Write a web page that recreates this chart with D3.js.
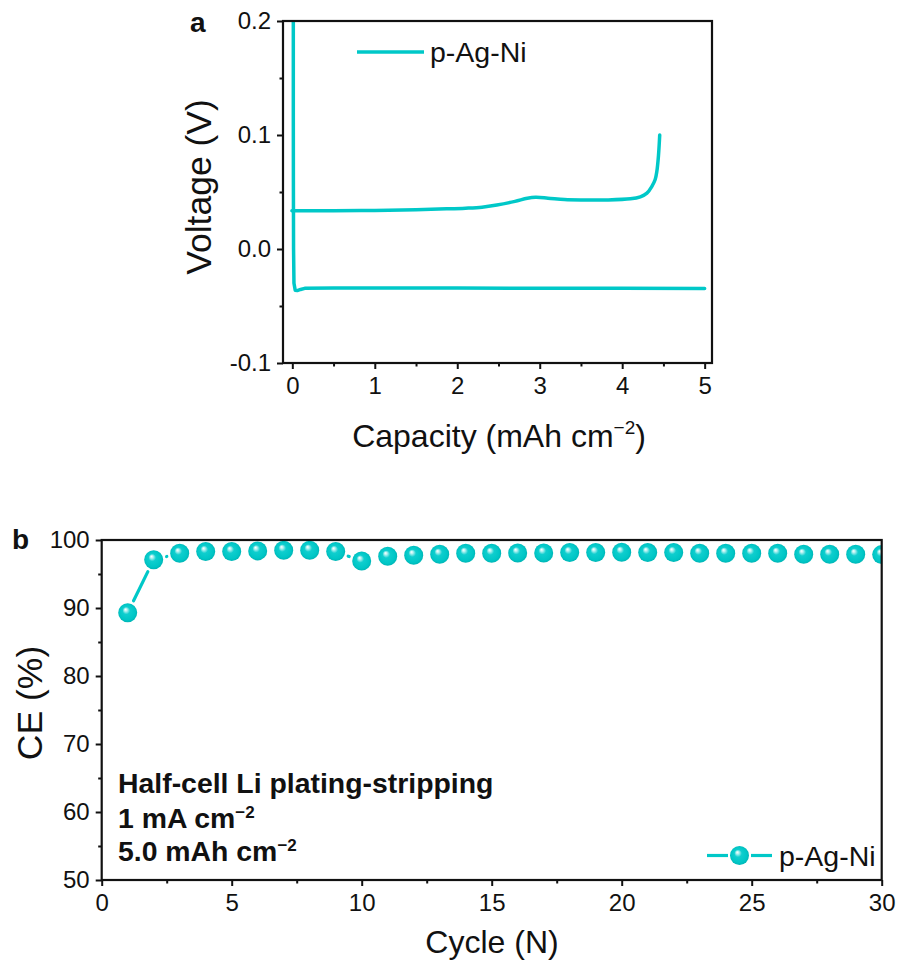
<!DOCTYPE html>
<html>
<head>
<meta charset="utf-8">
<script src="https://cdn.jsdelivr.net/npm/d3@7"></script>
<style>
  html, body { margin: 0; padding: 0; background: #fff; }
  svg { display: block; }
  text { font-family: "Liberation Sans", Arial, sans-serif; fill: #111; }
</style>
</head>
<body>
<svg id="chart" width="899" height="967"></svg>
<script>
// ---------------- DATA ----------------
// Panel a: voltage profile (plating then stripping)
const platingCapacity = [0.012, 0.012, 0.013, 0.015, 0.02, 0.035, 0.06, 0.1, 0.15, 0.5, 1.0, 2.0, 3.0, 4.0, 5.0];
const platingVoltage  = [0.2, 0.12, 0.06, 0.0, -0.03, -0.0362, -0.0365, -0.0355, -0.0345, -0.0343, -0.0343, -0.0343, -0.0345, -0.0345, -0.0346];

const strippingCapacity = [-0.005, 0.5, 1.0, 1.5, 1.87, 2.1, 2.3, 2.48, 2.7, 2.85, 2.95, 3.1, 3.3, 3.5, 3.8, 4.1, 4.22, 4.3, 4.36, 4.4, 4.42, 4.44, 4.455];
const strippingVoltage  = [0.0335, 0.0336, 0.0338, 0.0345, 0.0352, 0.0358, 0.0367, 0.0386, 0.0418, 0.0445, 0.0453, 0.0446, 0.0434, 0.0430, 0.0430, 0.0440, 0.0458, 0.049, 0.055, 0.061, 0.068, 0.082, 0.1];

const seriesName = "p-Ag-Ni";
const xTicksA = [0, 1, 2, 3, 4, 5];
const xMinorA = [0.5, 1.5, 2.5, 3.5, 4.5];
const yTicksA = [-0.1, 0.0, 0.1, 0.2];
const yTickLabelsA = ["-0.1", "0.0", "0.1", "0.2"];
const yMinorA = [-0.05, 0.05, 0.15];

// Panel b: coulombic efficiency
const cycles = [1, 2, 3, 4, 5, 6, 7, 8, 9, 10, 11, 12, 13, 14, 15, 16, 17, 18, 19, 20, 21, 22, 23, 24, 25, 26, 27, 28, 29, 30];
const ce = [89.3, 97.1, 98.05, 98.3, 98.3, 98.4, 98.5, 98.5, 98.3, 96.9, 97.6, 97.75, 97.9, 98.05, 98.05, 98.1, 98.1, 98.15, 98.15, 98.2, 98.15, 98.15, 98.05, 98.05, 98.05, 98.05, 97.9, 97.9, 97.9, 97.85];
const xTicksB = [0, 5, 10, 15, 20, 25, 30];
const xMinorB = [2.5, 7.5, 12.5, 17.5, 22.5, 27.5];
const yTicksB = [50, 60, 70, 80, 90, 100];
const yMinorB = [55, 65, 75, 85, 95];
const annotationLines = [
  {main: "Half-cell Li plating-stripping", sup: ""},
  {main: "1 mA cm", sup: "\u22122"},
  {main: "5.0 mAh cm", sup: "\u22122"}
];

// ---------------- STYLE ----------------
const CYAN = "#00c8c8";
const MARKER_R = 9.5;
const LINE_GAP = 13.3; // distance from marker centre where connecting line stops
const svg = d3.select("#chart");

// gradient for spherical markers
const defs = svg.append("defs");
const grad = defs.append("radialGradient").attr("id", "ball")
  .attr("cx", "50%").attr("cy", "50%").attr("r", "52%")
  .attr("fx", "38%").attr("fy", "32%");
grad.append("stop").attr("offset", "0%").attr("stop-color", "#ffffff");
grad.append("stop").attr("offset", "14%").attr("stop-color", "#b8f2f2");
grad.append("stop").attr("offset", "38%").attr("stop-color", "#0fcece");
grad.append("stop").attr("offset", "80%").attr("stop-color", "#00c6c6");
grad.append("stop").attr("offset", "100%").attr("stop-color", "#00b2b2");

function drawAxes(g, x, y, xt, xm, yt, ym, yFmt) {
  const [x0, x1] = x.range();
  const [y0, y1] = y.range(); // y0 bottom, y1 top
  const bx = g.append("g").attr("transform", `translate(0,${y0})`)
    .call(d3.axisBottom(x).tickValues(xt).tickSize(6).tickSizeOuter(0).tickPadding(8).tickFormat(d3.format("d")));
  const bxm = g.append("g").attr("transform", `translate(0,${y0})`)
    .call(d3.axisBottom(x).tickValues(xm).tickSize(3.5).tickSizeOuter(0).tickFormat(""));
  const ly = g.append("g").attr("transform", `translate(${x0},0)`)
    .call(d3.axisLeft(y).tickValues(yt).tickSize(6).tickSizeOuter(0).tickPadding(6).tickFormat(yFmt));
  const lym = g.append("g").attr("transform", `translate(${x0},0)`)
    .call(d3.axisLeft(y).tickValues(ym).tickSize(3.5).tickSizeOuter(0).tickFormat(""));
  [bx, bxm, ly, lym].forEach(a => {
    a.select(".domain").remove();
    a.selectAll(".tick line").attr("stroke", "#111").attr("stroke-width", 2);
    a.selectAll(".tick text").attr("font-size", 24).attr("fill", "#111")
      .attr("font-family", '"Liberation Sans", Arial, sans-serif');
  });
  g.append("rect").attr("x", x0).attr("y", y1).attr("width", x1 - x0).attr("height", y0 - y1)
    .attr("fill", "none").attr("stroke", "#111").attr("stroke-width", 2.2);
}

// ---------------- PANEL A ----------------
const xa = d3.scaleLinear().domain([-0.113, 5.089]).range([283, 712]);
const ya = d3.scaleLinear().domain([-0.1, 0.2]).range([363, 21]);
const ga = svg.append("g");
defs.append("clipPath").attr("id", "clipA").append("rect")
  .attr("x", 283).attr("y", 21).attr("width", 712 - 283).attr("height", 363 - 21);

const plating = platingCapacity.map((c, i) => [c, platingVoltage[i]]);
const stripping = strippingCapacity.map((c, i) => [c, strippingVoltage[i]]);
const curvesA = ga.append("g").attr("clip-path", "url(#clipA)");
curvesA.append("path").attr("d", d3.line().x(d => xa(d[0])).y(d => ya(d[1]))(plating)).attr("fill", "none")
  .attr("stroke", CYAN).attr("stroke-width", 3.5).attr("stroke-linejoin", "round").attr("stroke-linecap", "round");
curvesA.append("path").attr("d", d3.line().x(d => xa(d[0])).y(d => ya(d[1])).curve(d3.curveCatmullRom.alpha(0.5))(stripping)).attr("fill", "none")
  .attr("stroke", CYAN).attr("stroke-width", 3.5).attr("stroke-linejoin", "round").attr("stroke-linecap", "round");

drawAxes(ga, xa, ya, xTicksA, xMinorA, yTicksA, yMinorA, d => yTickLabelsA[yTicksA.indexOf(d)]);

// legend a
ga.append("line").attr("x1", 357).attr("x2", 424).attr("y1", 52).attr("y2", 52)
  .attr("stroke", CYAN).attr("stroke-width", 3.5);
ga.append("text").attr("x", 430).attr("y", 62).attr("font-size", 28.5).text(seriesName);

// titles a
ga.append("text").attr("x", 499).attr("y", 447).attr("text-anchor", "middle").attr("font-size", 32)
  .call(t => { t.append("tspan").text("Capacity (mAh cm"); t.append("tspan").attr("font-size", 19).attr("dy", -13).text("\u22122"); t.append("tspan").attr("dy", 13).text(")"); });
ga.append("text").attr("transform", "translate(211,187) rotate(-90)").attr("text-anchor", "middle")
  .attr("font-size", 35.5).text("Voltage (V)");
ga.append("text").attr("x", 190).attr("y", 32).attr("font-size", 28).attr("font-weight", "bold").text("a");

// ---------------- PANEL B ----------------
const xb = d3.scaleLinear().domain([0, 30]).range([101.7, 881.7]);
const yb = d3.scaleLinear().domain([50, 100]).range([880, 540]);
const gb = svg.append("g");
defs.append("clipPath").attr("id", "clipB").append("rect")
  .attr("x", 101.7).attr("y", 520).attr("width", 881.7 - 101.7).attr("height", 880 - 520);

const pts = cycles.map((c, i) => [c, ce[i]]);
const plotB = gb.append("g").attr("clip-path", "url(#clipB)");
// connecting line segments with a gap around each symbol (Origin style)
const segs = d3.pairs(pts).map(([a, b]) => {
  const ax = xb(a[0]), ay = yb(a[1]), bx = xb(b[0]), by = yb(b[1]);
  const dx = bx - ax, dy = by - ay, len = Math.hypot(dx, dy);
  const ux = dx / len, uy = dy / len;
  return {x1: ax + ux * LINE_GAP, y1: ay + uy * LINE_GAP, x2: bx - ux * LINE_GAP, y2: by - uy * LINE_GAP, ok: len > 2 * LINE_GAP};
}).filter(s => s.ok);
plotB.selectAll("line.seg").data(segs).join("line").attr("class", "seg")
  .attr("x1", d => d.x1).attr("y1", d => d.y1).attr("x2", d => d.x2).attr("y2", d => d.y2)
  .attr("stroke", CYAN).attr("stroke-width", 3.2).attr("stroke-linecap", "round");
plotB.selectAll("circle.pt").data(pts).join("circle").attr("class", "pt")
  .attr("cx", d => xb(d[0])).attr("cy", d => yb(d[1])).attr("r", MARKER_R)
  .attr("fill", "url(#ball)");

drawAxes(gb, xb, yb, xTicksB, xMinorB, yTicksB, yMinorB, d3.format("d"));

// annotation
const ann = gb.append("g");
const annY = [793, 828, 861];
annotationLines.forEach((l, i) => {
  const t = ann.append("text").attr("x", 118).attr("y", annY[i]).attr("font-size", 28.4).attr("font-weight", "bold");
  t.append("tspan").text(l.main);
  if (l.sup) t.append("tspan").attr("font-size", 17).attr("dy", -10).text(l.sup);
});

// legend b
gb.append("rect").attr("x", 703).attr("y", 838).attr("width", 177).attr("height", 40).attr("fill", "#fff");
gb.append("line").attr("x1", 707).attr("x2", 728).attr("y1", 855.5).attr("y2", 855.5)
  .attr("stroke", CYAN).attr("stroke-width", 3.2);
gb.append("line").attr("x1", 751).attr("x2", 772).attr("y1", 855.5).attr("y2", 855.5)
  .attr("stroke", CYAN).attr("stroke-width", 3.2);
gb.append("circle").attr("cx", 739.5).attr("cy", 855.5).attr("r", MARKER_R).attr("fill", "url(#ball)");
gb.append("text").attr("x", 779).attr("y", 866).attr("font-size", 28.5).text(seriesName);

// titles b
gb.append("text").attr("x", 492).attr("y", 953).attr("text-anchor", "middle").attr("font-size", 32).text("Cycle (N)");
gb.append("text").attr("transform", "translate(42,703) rotate(-90)").attr("text-anchor", "middle")
  .attr("font-size", 35.5).text("CE (%)");
gb.append("text").attr("x", 12).attr("y", 549).attr("font-size", 28).attr("font-weight", "bold").text("b");
</script>
</body>
</html>
